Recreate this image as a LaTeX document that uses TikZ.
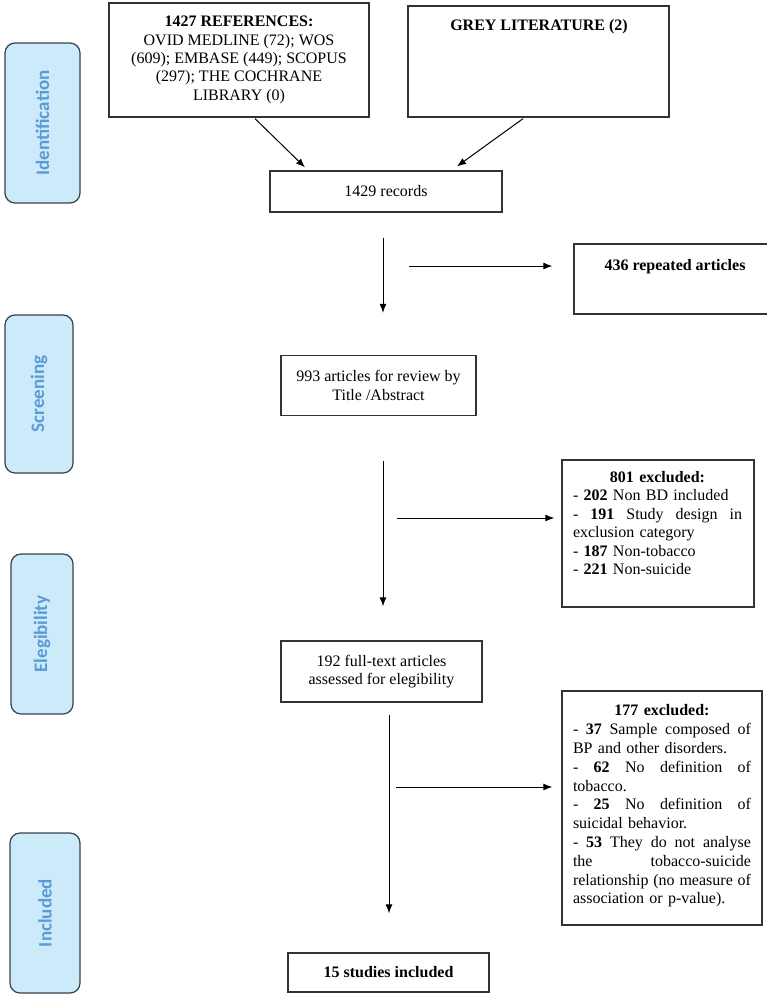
\documentclass[tikz,border=0pt]{standalone}
\usepackage{fontspec}
\setmainfont{Liberation Serif}
\newfontfamily\sidefont{Carlito}
\usetikzlibrary{arrows.meta,calc}
\definecolor{sidefill}{RGB}{205,234,250}
\definecolor{sidetext}{RGB}{91,155,213}
\definecolor{sideline}{RGB}{55,65,75}
\definecolor{boxline}{RGB}{50,50,50}
\newcommand\justln[2]{{\spaceskip=0pt\xspaceskip=0pt\makebox[#1][s]{#2}}}
\begin{document}
\begin{tikzpicture}[x=1pt,y=-1pt,
  box/.style={draw=boxline,line width=1.3pt,inner sep=0pt,align=center,font=\fontsize{16}{18.4}\selectfont},
  side/.style={draw=sideline,fill=sidefill,rounded corners=10pt,line width=1.2pt,inner sep=0pt,
    text=sidetext,font=\sidefont\bfseries\fontsize{19}{22}\selectfont,rotate=90},
  txt/.style={inner sep=0pt,font=\fontsize{16}{18.5}\selectfont,align=center},
  arr/.style={line width=1pt,-{Latex[length=9pt,width=7pt]}}]
\useasboundingbox (0,0) rectangle (767,997);
\clip (0,0) rectangle (767,997);
\fill[white] (0,0) rectangle (767,997);

% side phase labels
\node[side,minimum width=160pt,minimum height=75pt] (s1) at (42.5,123) {Identification};
\node[side,minimum width=158pt,minimum height=68pt] (s2) at (39,394) {Screening};
\node[side,minimum width=160pt,minimum height=62pt] (s3) at (42,634) {Elegibility};
\node[side,minimum width=160pt,minimum height=70pt] (s4) at (45,913) {Included};

% main boxes
\node[box,minimum width=260pt,minimum height=114pt] (ref) at (239,60)
  {\textbf{1427 REFERENCES:}\\OVID MEDLINE (72); WOS\\(609); EMBASE (449); SCOPUS\\(297); THE COCHRANE\\LIBRARY (0)};
\node[box,minimum width=261pt,minimum height=111pt] (grey) at (538.5,61.5) {};
\node[txt] (greyt) at (539,27) {\textbf{GREY LITERATURE (2)}};
\node[box,minimum width=232pt,minimum height=41pt] (rec) at (386,191.5) {1429 records};
\node[box,minimum width=202pt,minimum height=70pt] (rep) at (675,279) {};
\node[txt] (rept) at (675,267) {\textbf{436 repeated articles}};
\node[box,minimum width=195pt,minimum height=60pt] (scr) at (378.5,385.5)
  {993 articles for review by\\Title /Abstract};
\node[box,minimum width=192pt,minimum height=147pt] (exc1) at (658,533.5) {};
\node[txt,align=left,text width=169pt] (exc1t) at (657.5,523)
  {\makebox[169pt][c]{\textbf{801 excluded:}}\\
   - \textbf{202} Non BD included\\
   \justln{169pt}{- \textbf{191} Study design in}\\
   exclusion category\\
   - \textbf{187} Non-tobacco\\
   - \textbf{221} Non-suicide};
\node[box,minimum width=201pt,minimum height=61pt] (full) at (381.5,671.5)
  {192 full-text articles\\assessed for elegibility};
\node[box,minimum width=200pt,minimum height=234pt] (exc2) at (662,808) {};
\node[txt,align=left,text width=178pt,font=\fontsize{16}{18.8}\selectfont] (exc2t) at (662,806)
  {\makebox[178pt][c]{\textbf{177 excluded:}}\\
   \justln{178pt}{- \textbf{37} Sample composed of}\\
   BP and other disorders.\\
   \justln{178pt}{- \textbf{62} No definition of}\\
   tobacco.\\
   \justln{178pt}{- \textbf{25} No definition of}\\
   suicidal behavior.\\
   \justln{178pt}{- \textbf{53} They do not analyse}\\
   \justln{178pt}{the tobacco-suicide}\\
   \justln{178pt}{relationship (no measure of}\\
   association or p-value).};
\node[box,minimum width=201pt,minimum height=39pt] (inc) at (388.5,972.5) {\textbf{15 studies included}};

% connectors
\draw[arr] ($(ref.south)+(16,1)$) -- ($(rec.north)+(-81,-3)$);
\draw[arr] ($(grey.south)+(-15.5,1)$) -- ($(rec.north)+(71,-4)$);

\coordinate (d1a) at ($(rec.south)+(-3,25)$);
\coordinate (d1b) at ($(scr.north)+(4.5,-42)$);
\draw[arr] (d1a) -- (d1b);
\coordinate (h1a) at (409,266);
\draw[arr] (h1a) -- ($(h1a -| rep.west)+(-21,0)$);

\coordinate (d2a) at ($(scr.south)+(4.5,45)$);
\coordinate (d2b) at ($(full.north)+(1.5,-34)$);
\draw[arr] (d2a) -- (d2a |- d2b);
\coordinate (h2a) at (397,518);
\draw[arr] (h2a) -- ($(h2a -| exc1.west)+(-7,0)$);

\coordinate (d3a) at ($(full.south)+(7.5,12)$);
\draw[arr] (d3a) -- ($(d3a |- inc.north)+(0,-39)$);
\coordinate (h3a) at (396,787);
\draw[arr] (h3a) -- ($(h3a -| exc2.west)+(-9,0)$);
\end{tikzpicture}
\end{document}
